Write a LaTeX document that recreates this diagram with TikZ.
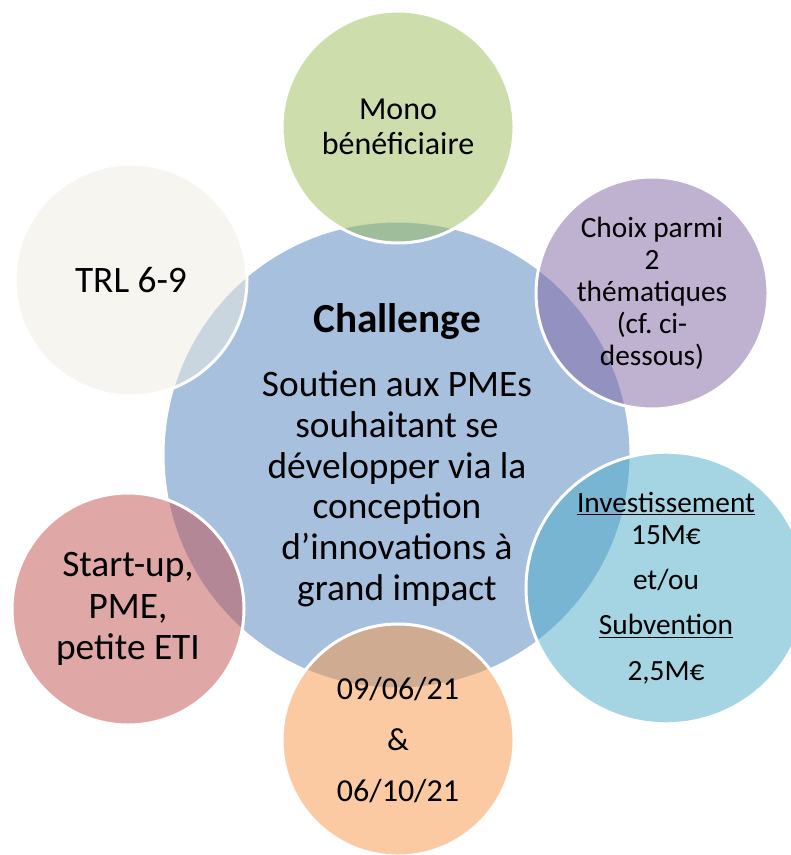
\documentclass[tikz,border=0pt]{standalone}
\usepackage{fontspec}
\setmainfont{Carlito}
\usepackage{tikz}
\usetikzlibrary{shapes.geometric}
\frenchspacing
\definecolor{hubblue}{HTML}{4F81BD}
\definecolor{monogreen}{HTML}{9BBB59}
\definecolor{choixpurple}{HTML}{8064A2}
\definecolor{fundcyan}{HTML}{4BACC6}
\definecolor{dateorange}{HTML}{F79646}
\definecolor{targetred}{HTML}{C0504D}
\definecolor{trlgrey}{HTML}{EEECE1}
\tikzset{
  bubble/.style={circle, draw=white, line width=2.25pt, fill opacity=0.5,
    text opacity=1, align=center, inner sep=0pt},
  hub/.style={bubble, fill=hubblue, minimum size=351pt},
  sat/.style={bubble, minimum size=174pt}
}

\begin{document}
\begin{tikzpicture}[x=0.75pt,y=-0.75pt]
				\useasboundingbox (0,0) rectangle (790,855);
				
				% centre
				\node[hub, font=\fontsize{28}{30.5}\selectfont] (hub) at (397,455)
					{{\fontsize{31}{31}\selectfont\bfseries Challenge}\\[18pt]Soutien aux PMEs\\souhaitant se\\développer via la\\conception\\d’innovations à\\grand impact};
				
				% satellites
				\node[sat, fill=monogreen, font=\fontsize{24}{26}\selectfont] (mono) at (398,127)
					{Mono\\bénéficiaire};
				\node[sat, fill=choixpurple, font=\fontsize{22}{24}\selectfont] (choix) at (652,293)
					{Choix parmi\\2\\thématiques\\(cf. ci-\\dessous)};
				\node[sat, ellipse, minimum width=210pt, minimum height=172.5pt, fill=fundcyan,
					font=\fontsize{22}{24}\selectfont] (fund) at (666,588)
					{\underline{Investissement}\\15M€\\[10pt]et/ou\\[10pt]\underline{Subvention}\\[10pt]2,5M€};
				\node[sat, fill=dateorange, font=\fontsize{24}{28}\selectfont] (dates) at (398,740)
					{09/06/21\\[10pt]\&\\[10pt]06/10/21};
				\node[sat, fill=targetred, font=\fontsize{28}{31}\selectfont] (target) at (128,609)
					{Start-up,\\PME,\\petite ETI};
				\node[sat, fill=trlgrey, font=\fontsize{28}{30}\selectfont] (trl) at (131,280)
					{TRL 6-9};
\end{tikzpicture}
\end{document}
